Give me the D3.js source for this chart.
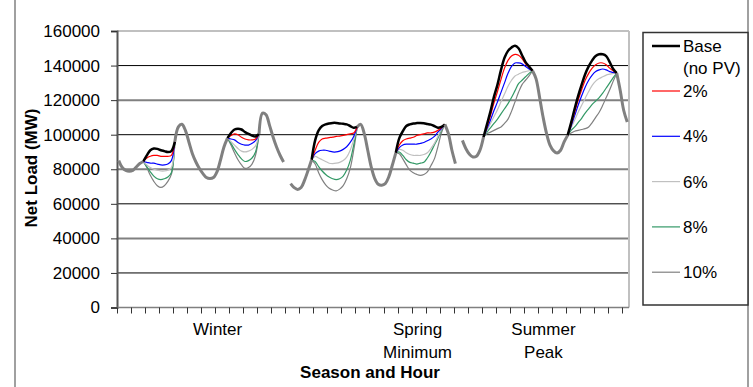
<!DOCTYPE html>
<html lang="en">
<head>
  <meta charset="UTF-8">
  <title>Net Load by Season and Hour</title>
  <script src="https://d3js.org/d3.v7.min.js"></script>
  <style>
    body { margin: 0; background: #fff; }
    svg { display: block; }
    text { font-family: "Liberation Sans", Arial, sans-serif; font-size: 17px; fill: #000; }
    .bold { font-weight: bold; }
  </style>
</head>
<body>
<svg width="753" height="387"></svg>
<script>
// values in thousands of MW, one per hour (48 hours = 2 days per season)
const seasonNames = [["Winter"], ["Spring", "Minimum"], ["Summer", "Peak"]];
const seasonOffsets = [0, 49, 98];   // one empty category between seasons
const seasonLabelAt = [28.7, 85.7, 121.6];
const levels = ["2%", "4%", "6%", "8%", "10%"];
const levelColors = ["#ff0000", "#0000ff", "#c0c0c0", "#339966", "#808080"];
const yTicks = [0, 20000, 40000, 60000, 80000, 100000, 120000, 140000, 160000];

const winterBase = [85, 81, 79.3, 78.8, 79.3, 81.3, 83.3, 84.5,
  88, 91, 92, 91.8, 91, 90.5, 90, 90.5, 96,
  104.5, 106, 102.5, 95.8, 89, 84.2, 80.4, 77.5, 75.2, 74.6, 75.2, 78.5, 85.2, 92.9,
  98, 101, 103, 103.5, 103, 101.5, 100.5, 99.5, 99, 100.5,
  112.5, 111.5, 105.4, 98.7, 92.9, 88.1, 84.2];
const winterDaylight = [[7, 16], [31, 40]];
const winterPV = [
  [86.5, 87.5, 88, 88, 87.5, 87.5, 87.5, 88, 99.5, 100.5, 100, 98.5, 97.5, 97, 97, 97.5],
  [84, 83.5, 83.5, 83, 82.5, 82.5, 83, 85, 97.5, 97, 95.5, 94.5, 94, 94, 95, 96.5],
  [82.5, 81, 80, 79.5, 79, 79, 79.5, 81, 96, 94, 92, 90.5, 90, 90.5, 91.5, 93.5],
  [81.5, 78.5, 76, 74.5, 74, 74.5, 75.5, 78, 95, 91.5, 88.5, 86, 84.5, 85, 86.5, 90],
  [81, 76.5, 73, 70.5, 69.5, 70.5, 73, 77, 94, 89.5, 85.5, 82.5, 80.5, 81, 83, 88]
];

const springBase = [71.7, 69.4, 68.3, 69.4, 73.7, 79.4, 85.5,
  96.7, 102.5, 105, 106, 106.5, 106.8, 106.8, 106.5, 106.3, 106, 105, 104, 104.5,
  106, 100.6, 91, 81.3, 74.6, 71.3, 70.8, 71.7, 75.6, 82.3, 89.5,
  98, 102, 105, 106, 106.5, 106.7, 106.8, 106.6, 106.2, 105.8, 105, 104, 104.5, 106,
  100.6, 91, 83.3];
const springDaylight = [[6, 19], [30, 44]];
const springPV = [
  [91, 95.5, 97.5, 98, 98.3, 98.6, 99, 99.2, 99.6, 100, 100.5, 101,
   94, 96.5, 97.5, 98, 98.5, 99.5, 100, 100.5, 101, 101, 101.5, 102.5, 104],
  [89, 90.5, 91, 91, 90.5, 90, 90, 90.5, 91.5, 93, 95.5, 99,
   92.5, 94, 94.5, 94.5, 94.5, 94.5, 95, 95.5, 96.5, 97.5, 99, 101.5, 103.5],
  [87.5, 86.5, 85.5, 84.5, 83.5, 83.3, 83.5, 84, 85, 87, 91, 97,
   91.5, 91, 89.5, 88.5, 88, 88, 88, 88.5, 89.5, 92, 95, 99, 103],
  [84.5, 81.5, 79, 77, 75.5, 74.5, 74, 74.5, 76, 79.5, 85, 94,
   90, 88, 85.5, 84, 83.5, 83, 83.5, 84, 86.5, 90, 94, 98, 102.5],
  [83, 78, 74, 71, 69, 68, 67.5, 68.5, 70.5, 74.5, 80.5, 91,
   89, 86, 82.5, 79.5, 78, 77, 76.5, 77, 78.5, 82, 86, 93, 101]
];

const summerBase = [96.7, 91.9, 88.7, 87.1, 87.5, 91, 98.5,
  106, 113.5, 122, 129, 137.5, 144.5, 148.5, 150.5, 151.5, 150, 146, 142, 139.5, 137,
  132.3, 121.7, 110.2, 100.6, 93.8, 90.6, 89.4, 91, 95.8, 99.6,
  107, 115, 122.5, 129, 135, 139.5, 143, 145.5, 146.5, 146.5, 145.5, 142, 138, 135.6,
  125.6, 114, 107.3];
const summerDaylight = [[6, 20], [30, 44]];
const summerPV = [
  [104.5, 111, 118.5, 125, 132, 138.5, 143, 145.5, 146.5, 146, 144, 141, 139,
   106, 113, 120, 126, 131.5, 135.5, 138.5, 140.5, 141.5, 141.5, 140.5, 138.5, 137],
  [103.5, 108.5, 114, 119, 124.5, 130, 135.5, 139.5, 141.5, 141.5, 141, 139.5, 138,
   105, 111, 117, 122.5, 127.5, 131.5, 134.5, 136.5, 137.5, 138, 137.5, 136.5, 136],
  [102.5, 106.5, 110.5, 114.5, 119, 123.5, 128, 131.5, 134, 135, 136, 136.5, 137,
   104, 108.5, 113, 117, 121, 125, 128.5, 131, 132.5, 133.5, 134.5, 135, 135.5],
  [101.5, 104, 106.5, 109, 112, 115, 118, 121.5, 125.5, 129.5, 131.5, 133.5, 135.5,
   102.5, 104.5, 107, 109.5, 112.5, 115, 117.5, 119.5, 121.5, 124, 127, 130, 133],
  [100.5, 101.5, 102.5, 103.5, 104.5, 106.5, 109, 113.5, 119, 124.5, 129, 131.5, 134,
   101, 102, 102.5, 103, 103.5, 104.5, 107, 110, 113, 117, 121.5, 126, 131]
];

const baseBySeason = [winterBase, springBase, summerBase];
const daylightBySeason = [winterDaylight, springDaylight, summerDaylight];
const pvBySeason = [winterPV, springPV, summerPV];
const nCat = 146;

// value of a PV case at hour h: base at the day edges, PV inside, null at night
function pvValue(base, windows, pv, h) {
  let idx = 0;
  for (const [a, b] of windows) {
    if (h === a || h === b) return base[h];
    if (h > a && h < b) return pv[idx + h - a - 1];
    idx += b - a - 1;
  }
  return null;
}

function build(fn) {
  const arr = new Array(nCat).fill(null);
  seasonOffsets.forEach((off, si) => {
    for (let h = 0; h < 48; h++) {
      const v = fn(si, h);
      arr[off + h] = v == null ? null : v * 1000;
    }
  });
  return arr.map((v, i) => ({ i, v }));
}

const nightSeries = build((si, h) =>
  daylightBySeason[si].some(([a, b]) => h > a && h < b) ? null : baseBySeason[si][h]);
const baseDaySeries = build((si, h) =>
  daylightBySeason[si].some(([a, b]) => h >= a && h <= b) ? baseBySeason[si][h] : null);
const pvSeries = levels.map((l, k) => build((si, h) =>
  pvValue(baseBySeason[si], daylightBySeason[si], pvBySeason[si][k], h)));

const svg = d3.select('svg');
const plotLeft = 117, plotRight = 629, plotTop = 31, plotBottom = 307.5;

const x = d3.scaleBand().domain(d3.range(nCat)).range([plotLeft, plotRight]).paddingInner(0).paddingOuter(0);
const y = d3.scaleLinear().domain([0, 160000]).range([plotBottom, plotTop]);
const cx = i => x(i) + x.bandwidth() / 2;

// outer frame lines
svg.append('line').attr('x1', 15).attr('x2', 15).attr('y1', 0).attr('y2', 387)
  .attr('stroke', '#808080').attr('stroke-width', 1.5);
svg.append('line').attr('x1', 748).attr('x2', 748).attr('y1', 0).attr('y2', 387)
  .attr('stroke', '#808080').attr('stroke-width', 1.5);

// gridlines
yTicks.forEach((t, k) => {
  if (t === 0) return;
  const isTop = t === 160000;
  const dark = k % 2 === 1;
  svg.append('line')
    .attr('x1', plotLeft).attr('x2', plotRight)
    .attr('y1', y(t)).attr('y2', y(t))
    .attr('stroke', isTop ? '#c0c0c0' : (dark ? '#000' : '#808080'))
    .attr('stroke-width', isTop ? 2 : (dark ? 1 : 2));
});
// right border of plot area
svg.append('line').attr('x1', plotRight).attr('x2', plotRight).attr('y1', plotTop).attr('y2', plotBottom)
  .attr('stroke', '#c0c0c0').attr('stroke-width', 2);

// y axis
const yAxis = svg.append('g').attr('transform', `translate(${plotLeft},0)`)
  .call(d3.axisLeft(y).tickValues(yTicks).tickSize(6).tickPadding(11).tickFormat(d3.format('d')));
yAxis.select('.domain').attr('stroke', '#555').attr('stroke-width', 2);
yAxis.selectAll('.tick line').attr('stroke', '#333');
yAxis.selectAll('text').style('font-size', '17px').style('font-family', '"Liberation Sans", Arial, sans-serif').attr('fill', '#000');

// x axis: ticks every 4 hours, on category boundaries
const xTickCats = d3.range(0, nCat, 4);
const xAxis = svg.append('g').attr('transform', `translate(0,${plotBottom})`);
xAxis.append('line').attr('x1', plotLeft).attr('x2', plotRight).attr('y1', 0).attr('y2', 0)
  .attr('stroke', '#808080').attr('stroke-width', 1.5);
xAxis.selectAll('line.tick').data(xTickCats).enter().append('line')
  .attr('class', 'tick')
  .attr('x1', d => Math.round(x(d)) + 0.5).attr('x2', d => Math.round(x(d)) + 0.5)
  .attr('y1', 0).attr('y2', 6)
  .attr('stroke', '#333').attr('stroke-width', 1);

// season labels
seasonNames.forEach((lines, si) => {
  const lx = x(0) + seasonLabelAt[si] * x.bandwidth();
  const t = svg.append('text').attr('text-anchor', 'middle');
  lines.forEach((s, j) => {
    t.append('tspan').attr('x', lx).attr('y', 335 + j * 23).text(s);
  });
});

svg.append('text').attr('class', 'bold').attr('text-anchor', 'middle')
  .attr('x', 370).attr('y', 378).text('Season and Hour');
svg.append('text').attr('class', 'bold').attr('text-anchor', 'middle')
  .attr('transform', 'translate(36.5,168) rotate(-90)').text('Net Load (MW)');

// smoothed lines, like the spreadsheet's smoothed line option
const line = d3.line()
  .defined(d => d.v != null)
  .curve(d3.curveCatmullRom.alpha(0.5))
  .x(d => cx(d.i))
  .y(d => y(d.v));

const plot = svg.append('g').attr('fill', 'none').attr('stroke-linejoin', 'round');
for (let k = levels.length - 1; k >= 0; k--) {
  plot.append('path').datum(pvSeries[k]).attr('d', line)
    .attr('stroke', levelColors[k]).attr('stroke-width', 1.2);
}
plot.append('path').datum(baseDaySeries).attr('d', line)
  .attr('stroke', '#000').attr('stroke-width', 2.5);
plot.append('path').datum(nightSeries).attr('d', line)
  .attr('stroke', '#808080').attr('stroke-width', 3);

// legend
const legend = svg.append('g');
legend.append('rect').attr('x', 643).attr('y', 32.5).attr('width', 105).attr('height', 272.5)
  .attr('fill', '#fff').attr('stroke', '#333').attr('stroke-width', 1.5);
legend.append('line').attr('x1', 652).attr('x2', 680).attr('y1', 46).attr('y2', 46)
  .attr('stroke', '#000').attr('stroke-width', 2.5);
legend.append('text').attr('x', 683).attr('y', 52).text('Base');
legend.append('text').attr('x', 683).attr('y', 74).text('(no PV)');
levels.forEach((l, k) => {
  const ly = 91 + k * 45.3;
  legend.append('line').attr('x1', 652).attr('x2', 680).attr('y1', ly).attr('y2', ly)
    .attr('stroke', levelColors[k]).attr('stroke-width', 1.2);
  legend.append('text').attr('x', 683).attr('y', ly + 6).text(l);
});
</script>
</body>
</html>
